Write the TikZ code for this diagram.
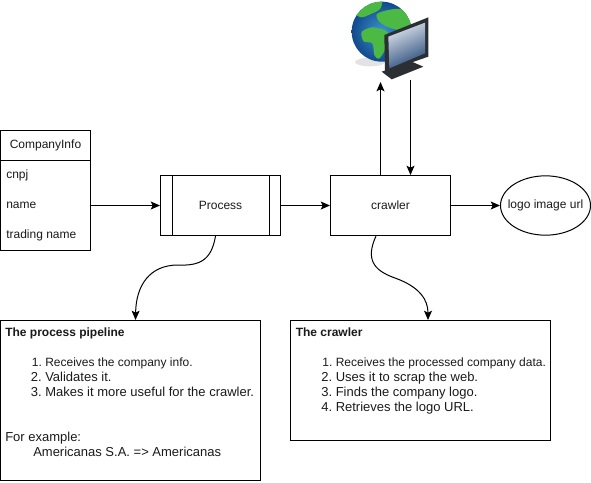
\documentclass[tikz,border=0pt]{standalone}
\usepackage{fontspec}
\setmainfont{Liberation Sans}
\usepackage{xcolor}
\usetikzlibrary{calc,positioning,arrows.meta,shapes.geometric}
\definecolor{ink}{HTML}{000000}
\definecolor{label}{HTML}{1A1A1A}
\definecolor{seablue}{HTML}{3E94D2}
\definecolor{seadark}{HTML}{114A8A}
\definecolor{land}{HTML}{4CB944}
\definecolor{bezel}{HTML}{2B2F33}
\definecolor{screenlight}{HTML}{DDE3EB}
\definecolor{screendark}{HTML}{2A4C7C}
\tikzset{
  base/.style={draw=ink, line width=0.75pt},
  link/.style={base, -{Stealth[length=7pt,width=6pt,inset=1.5pt]}},
  stepbox/.style={base, rectangle, inner sep=0pt, minimum width=90pt, minimum height=45pt, text=label, font=\fontsize{9}{11.25}\selectfont},
  outcome/.style={base, ellipse, inner sep=0pt, minimum width=67.5pt, minimum height=44.5pt},
  lab/.style={text=label, inner sep=0pt, font=\fontsize{9}{11.25}\selectfont},
  notes/.style={lab, align=left, anchor=north west},
}
\newcommand{\stepline}[2]{\hspace*{30pt}\llap{#1\ }#2}
\newcommand{\largertext}{\fontsize{9.75}{11.25}\selectfont}
\begin{document}
\begin{tikzpicture}[x=0.75pt,y=-0.75pt]
  \useasboundingbox (0,0) rectangle (591,482);
  % web icon
  \begin{scope}[shift={(345,0)},scale=1/3]
    \fill[gray!40, opacity=0.55] (75,186) ellipse (45 and 13);
    \begin{scope}
      \clip (110,95) circle (90);
      \shade[inner color=seablue, outer color=seadark] (110,95) circle (90);
      \fill[land] plot[smooth cycle] coordinates {(32,40) (65,12) (110,4) (104,28) (78,42) (50,52)};
      \fill[land] plot[smooth cycle] coordinates {(96,42) (130,30) (170,28) (200,60) (198,92) (150,88) (118,76) (100,62)};
      \fill[land] plot[smooth cycle] coordinates {(50,96) (80,82) (112,88) (130,100) (122,145) (102,176) (88,165) (82,130) (56,124)};
    \end{scope}
    \fill[bezel] (110,215) -- (200,185) -- (235,200) -- (140,238) -- cycle;
    \fill[bezel] (118,105) -- (250,52) -- (250,170) -- (120,215) -- cycle;
    \shade[top color=screenlight, bottom color=screendark, shading angle=25] (130,110) -- (240,68) -- (240,160) -- (133,205) -- cycle;
  \end{scope}
  \coordinate (webup) at (380.5,82);
  \coordinate (webdown) at (410.5,80);
  % company record
  \node[base, rectangle, inner sep=0pt, minimum width=67.5pt, minimum height=90pt] (company) at (45.5,190) {};
  \coordinate (companyhead) at (0.5,160);
  \draw[base] (companyhead) -- (companyhead -| company.east);
  \node[lab] (companytitle) at (45.5,145) {CompanyInfo};
  \node[lab, anchor=west] (cnpj) at (6,175) {cnpj};
  \node[lab, anchor=west] (name) at (6,205) {name};
  \node[lab, anchor=west] (trading) at (6,235) {trading name};
  % main row
  \node[stepbox] (process) at (220.5,205.5) {Process};
  \draw[base] ($(process.north west)+(12,0)$) -- ($(process.south west)+(12,0)$);
  \draw[base] ($(process.north east)+(-12,0)$) -- ($(process.south east)+(-12,0)$);
  \node[stepbox] (crawler) at (390.5,205.5) {crawler};
  \node[outcome] (logourl) at (545.5,205.5) {};
  \node[lab] (logotext) at (logourl) {logo image url};
  % notes
  \node[base, rectangle, minimum width=195pt, minimum height=120pt] (pipeline) at (130.5,400.5) {};
  \node[notes] (pipelinetext) at (5,328) {\textbf{The process pipeline}\\[11.25pt]
    \stepline{1.}{Receives the company info.}\\
    \largertext\stepline{2.}{Validates it.}\\
    \largertext\stepline{3.}{Makes it more useful for the crawler.}\\[22.5pt]
    \largertext For example:\\
    \largertext\hspace*{21pt}Americanas S.A. => Americanas};
  \node[base, rectangle, minimum width=195pt, minimum height=90pt] (crawlernote) at (420.5,380.5) {};
  \node[notes] (crawlertext) at (295.5,328) {\textbf{The crawler}\\[11.25pt]
    \stepline{1.}{Receives the processed company data.}\\
    \largertext\stepline{2.}{Uses it to scrap the web.}\\
    \largertext\stepline{3.}{Finds the company logo.}\\
    \largertext\stepline{4.}{Retrieves the logo URL.}};
  % connectors
  \draw[link] (process.west -| company.east) -- (process.west);
  \draw[link] (process.east) -- (crawler.west);
  \draw[link] (crawler.east) -- (logourl.west);
  \draw[link] (crawler.north -| webup) -- (webup);
  \draw[link] (webdown) -- (crawler.north -| webdown);
  \draw[link] ($(process.south)+(-5,0)$) .. controls +(-4,24) and (200,266) .. (178,265)
    .. controls (150,265) and (136,285) .. (pipeline.north -| 135.5,0);
  \draw[link] ($(crawler.south)+(-14.5,0)$) .. controls (366,258) and (372,270) .. (395,278)
    .. controls (420,287) and (428,300) .. (crawlernote.north -| 428,0);
\end{tikzpicture}
\end{document}
